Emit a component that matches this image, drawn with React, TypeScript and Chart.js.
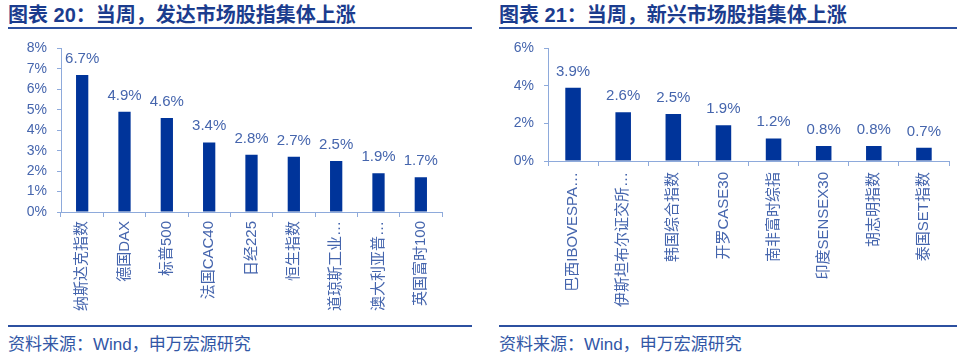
import React, { useEffect, useRef } from "react";
import { Chart, registerables } from "chart.js";

Chart.register(...registerables);

const devCategories = ["纳斯达克指数", "德国DAX", "标普500", "法国CAC40", "日经225", "恒生指数", "道琼斯工业…", "澳大利亚普…", "英国富时100"];
const devValues = [6.7, 4.9, 4.6, 3.4, 2.8, 2.7, 2.5, 1.9, 1.7];
const emCategories = ["巴西IBOVESPA…", "伊斯坦布尔证交所…", "韩国综合指数", "开罗CASE30", "南非富时综指", "印度SENSEX30", "胡志明指数", "泰国SET指数"];
const emValues = [3.9, 2.6, 2.5, 1.9, 1.2, 0.8, 0.8, 0.7];

const TITLE_LEFT = "图表 20：当周，发达市场股指集体上涨";
const TITLE_RIGHT = "图表 21：当周，新兴市场股指集体上涨";
const SOURCE = "资料来源：Wind，申万宏源研究";

const BAR_COLOR = "#00349a";
const AXIS_COLOR = "#8eaadb";
const TEXT_COLOR = "#4565ad";
const TITLE_COLOR = "#1b3c8e";
const LINE_COLOR = "#2c50a0";
const FONT = "'Liberation Sans', 'Noto Sans CJK SC', sans-serif";

const valueLabels = {
  id: "valueLabels",
  afterDatasetsDraw(chart: any) {
    const ctx = chart.ctx;
    const meta = chart.getDatasetMeta(0);
    const data = chart.data.datasets[0].data;
    ctx.save();
    ctx.font = "15px " + FONT;
    ctx.fillStyle = TEXT_COLOR;
    ctx.textAlign = "center";
    ctx.textBaseline = "alphabetic";
    meta.data.forEach((bar: any, i: number) => {
      ctx.fillText(Number(data[i]).toFixed(1) + "%", bar.x, bar.y - 12);
    });
    ctx.restore();
  },
};

type Cfg = {
  labels: string[];
  values: number[];
  max: number;
  step: number;
  yWidth: number;
  xHeight: number;
  padTop: number;
  padRight: number;
  barPct: number;
  xPad: number;
};

function BarChart({ cfg, width, height }: { cfg: Cfg; width: number; height: number }) {
  const ref = useRef<HTMLCanvasElement>(null);
  useEffect(() => {
    if (!ref.current) return;
    const chart = new Chart(ref.current, {
      type: "bar",
      data: {
        labels: cfg.labels,
        datasets: [
          {
            data: cfg.values,
            backgroundColor: BAR_COLOR,
            categoryPercentage: 1,
            barPercentage: cfg.barPct,
          },
        ],
      },
      options: {
        animation: false,
        responsive: false,
        devicePixelRatio: 1,
        layout: { padding: { top: cfg.padTop, right: cfg.padRight, left: 0, bottom: 0 } },
        plugins: { legend: { display: false }, tooltip: { enabled: false } },
        scales: {
          x: {
            afterFit: (s: any) => {
              s.height = cfg.xHeight;
            },
            border: { color: AXIS_COLOR, width: 1 },
            grid: { drawOnChartArea: false, drawTicks: true, tickLength: 5, color: AXIS_COLOR, offset: true },
            ticks: {
              color: TEXT_COLOR,
              font: { family: FONT, size: 15 },
              minRotation: 90,
              maxRotation: 90,
              autoSkip: false,
              padding: cfg.xPad,
            },
          },
          y: {
            min: 0,
            max: cfg.max,
            afterFit: (s: any) => {
              s.width = cfg.yWidth;
            },
            border: { color: AXIS_COLOR, width: 1 },
            grid: { drawOnChartArea: false, drawTicks: true, tickLength: 4, color: AXIS_COLOR },
            ticks: {
              stepSize: cfg.step,
              color: TEXT_COLOR,
              font: { family: FONT, size: 14 },
              padding: 10,
              callback: (v: any) => v + "%",
            },
          },
        },
      },
      plugins: [valueLabels],
    });
    return () => chart.destroy();
  }, []);
  return <canvas ref={ref} width={width} height={height} style={{ width, height, display: "block" }} />;
}

function Panel({ left, title, lineLeft, lineWidth, cfg }: { left: number; title: string; lineLeft: number; lineWidth: number; cfg: Cfg }) {
  return (
    <>
      <div
        style={{
          position: "absolute",
          left: lineLeft,
          top: 3,
          fontFamily: FONT,
          fontWeight: "bold",
          fontSize: 20,
          lineHeight: "24px",
          color: TITLE_COLOR,
          whiteSpace: "nowrap",
        }}
      >
        {title}
      </div>
      <div style={{ position: "absolute", left: lineLeft, top: 27, width: lineWidth, height: 2, background: LINE_COLOR }} />
      <div style={{ position: "absolute", left, top: 30 }}>
        <BarChart cfg={cfg} width={480} height={290} />
      </div>
      <div style={{ position: "absolute", left: lineLeft, top: 325, width: lineWidth, height: 2, background: LINE_COLOR }} />
      <div
        style={{
          position: "absolute",
          left: lineLeft,
          top: 334,
          fontFamily: FONT,
          fontSize: 17,
          lineHeight: "22px",
          color: "#3257a6",
          whiteSpace: "nowrap",
        }}
      >
        {SOURCE}
      </div>
    </>
  );
}

export default function App() {
  const leftCfg: Cfg = {
    labels: devCategories,
    values: devValues,
    max: 8,
    step: 1,
    yWidth: 61,
    xHeight: 108,
    padTop: 17,
    padRight: 38,
    barPct: 0.29,
    xPad: 4,
  };
  const rightCfg: Cfg = {
    labels: emCategories,
    values: emValues,
    max: 6,
    step: 2,
    yWidth: 68,
    xHeight: 159,
    padTop: 10,
    padRight: 11,
    barPct: 0.31,
    xPad: 6,
  };
  return (
    <div style={{ position: "fixed", left: 0, top: 0, width: 960, height: 357, background: "#fff", overflow: "hidden" }}>
      <Panel left={0} title={TITLE_LEFT} lineLeft={8} lineWidth={464} cfg={leftCfg} />
      <Panel left={480} title={TITLE_RIGHT} lineLeft={499} lineWidth={458} cfg={rightCfg} />
    </div>
  );
}
